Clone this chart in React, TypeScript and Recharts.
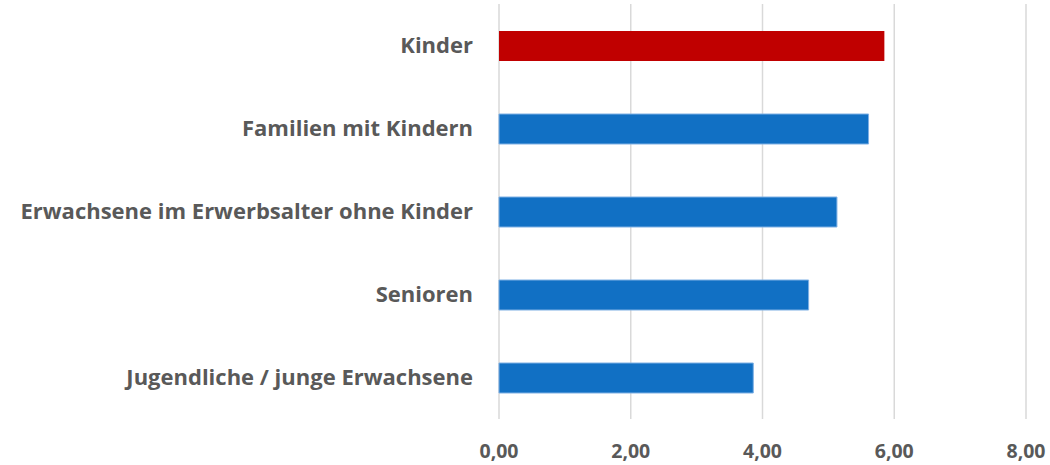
import { Bar, BarChart, CartesianGrid, Cell, XAxis, YAxis } from 'recharts';

const categories = [
  'Kinder',
  'Familien mit Kindern',
  'Erwachsene im Erwerbsalter ohne Kinder',
  'Senioren',
  'Jugendliche / junge Erwachsene',
];
const values = [5.85, 5.61, 5.13, 4.7, 3.86];
const barColors = ['#C00000', '#1170C4', '#1170C4', '#1170C4', '#1170C4'];
const xTicks = [0, 2, 4, 6, 8];

const data = categories.map((name, i) => ({ name, value: values[i] }));

const baseTick = {
  fill: '#595959',
  fontWeight: 700,
  fontFamily: '"Open Sans", sans-serif',
};

const fmt = (v: number) => v.toFixed(2).replace('.', ',');

export default function App() {
  return (
    <div style={{ position: 'absolute', left: 0, top: 0, background: '#fff' }}>
      <BarChart
        width={1050}
        height={465}
        data={data}
        layout="vertical"
        margin={{ top: 4, right: 24, left: 0, bottom: 0 }}
      >
        <CartesianGrid horizontal={false} stroke="#D9D9D9" strokeWidth={1.5} />
        <XAxis
          type="number"
          domain={[0, 8]}
          ticks={xTicks}
          tickFormatter={fmt}
          axisLine={false}
          tickLine={false}
          tick={{ ...baseTick, fontSize: 19.5 }}
          tickMargin={19}
          height={46}
        />
        <YAxis
          type="category"
          dataKey="name"
          width={499}
          axisLine={false}
          tickLine={false}
          tick={{ ...baseTick, fontSize: 22 }}
          tickMargin={20}
          interval={0}
        />
        <Bar dataKey="value" barSize={30} isAnimationActive={false}>
          {data.map((d, i) => (
            <Cell
              key={d.name}
              fill={barColors[i]}
              stroke={i === 0 ? 'none' : '#7FB0E4'}
              strokeWidth={1}
            />
          ))}
        </Bar>
      </BarChart>
    </div>
  );
}
